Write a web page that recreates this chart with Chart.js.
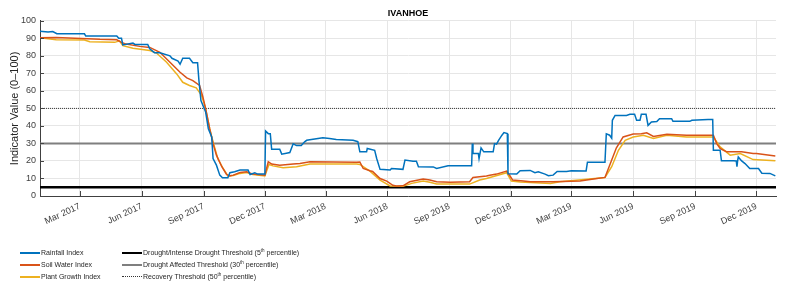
<!DOCTYPE html>
<html><head><meta charset="utf-8">
<script src="https://cdn.jsdelivr.net/npm/chart.js@4/dist/chart.umd.min.js"></script>
<style>
html,body{margin:0;padding:0;background:#fff;}
#wrap{position:relative;width:800px;height:292px;overflow:hidden;}
#c{position:absolute;left:0;top:0;}
.leg{position:absolute;font:7px "Liberation Sans",Arial,sans-serif;color:#262626;white-space:nowrap;line-height:8px;}
.sw{position:absolute;width:20px;height:0;}
sup{font-size:4.5px;line-height:4px;vertical-align:3px;}
</style></head>
<body>
<div id="wrap">
<canvas id="c" width="800" height="292"></canvas>
</div>
<script>
// Days counted from 1 Jan 2017
const tickDays = [59,151,243,334,424,516,608,699,789,881,973,1064];
const tickLabels = ['Mar 2017','Jun 2017','Sep 2017','Dec 2017','Mar 2018','Jun 2018','Sep 2018','Dec 2018','Mar 2019','Jun 2019','Sep 2019','Dec 2019'];

const rainfallDays = [0,12,19,25,66,68,114,117,121,123,138,141,160,163,170,178,193,196,205,208,212,222,227,234,236,239,246,250,255,257,262,267,271,279,282,289,297,309,312,319,323,334,335,339,342,344,356,359,371,376,381,388,393,396,420,430,440,465,472,475,485,486,497,500,505,520,522,539,542,554,559,562,584,589,606,641,642,643,651,652,655,659,673,675,678,681,686,689,694,695,708,713,728,735,740,750,755,762,768,782,789,811,813,839,841,846,849,850,854,871,876,883,886,891,893,900,903,908,916,920,938,940,965,968,992,999,1000,1010,1012,1030,1034,1035,1036,1037,1042,1047,1054,1067,1072,1084,1092];
const rainfallValues = [94.1,93.6,93.9,92.6,92.6,91.3,91.3,90,90,86.2,87.3,86.5,86.5,84,81.8,81.8,80,78.6,77,75.2,78.6,78.6,76.1,76,66,54.5,47.9,38.4,33.7,21.4,17.6,11.9,10.4,10.4,13.3,13.8,14.8,14.8,12.3,13.3,12.5,12.5,37.1,35.6,35.6,26.7,26.7,23.9,24.8,29.8,28.8,28.8,30.9,31.8,33.2,32.8,32.2,31.8,31,25.2,25.2,27.1,26.1,21.4,15.2,14.8,15.7,15.2,20.5,19.9,19.9,16.7,16.6,15.7,17.2,17.2,29.9,24.2,24.2,21.4,27.5,25.2,25.2,29.9,29.6,31.8,34.7,36.2,35.6,12.7,12.5,14.4,14.6,13.3,13.8,12.5,11.6,11.9,14,14,14.4,14.3,19.3,19.3,35.5,34.7,33,43.2,46,46,46.6,46.6,43.2,43.2,46.6,46.6,40.3,42.2,42.5,44.1,44.1,42.6,42.6,43.2,43.7,43.7,26.1,26.1,20.1,20.1,20,16.7,20,22.3,20,18.5,15.7,15.7,13,12.9,11.5];

const soilDays = [0,24,89,114,121,128,148,163,178,193,208,218,227,237,242,247,252,257,262,270,277,282,287,297,307,316,334,339,344,356,376,386,401,470,475,480,490,494,505,515,524,529,539,549,569,579,589,609,638,643,663,668,678,693,698,702,718,728,762,802,822,839,846,856,866,881,893,901,911,931,960,1000,1005,1010,1015,1020,1042,1059,1064,1092];
const soilValues = [90.3,90.5,89.4,89.2,87.7,86.7,85.4,84.8,82,76.3,70.6,67.4,65.9,63.1,56.4,48,38.4,29.9,23.3,16.7,12.3,11.5,11.9,13.4,13.8,12.5,11.9,19.5,18.2,17.5,18.2,18.5,19.5,19.3,19.4,15.7,14.4,14,10,8.5,6.1,5.7,5.8,8.1,9.7,9.1,8.1,7.8,8.1,10.6,11.4,11.9,12.5,14.2,11.4,9.1,8.5,8.1,8.1,8.5,9.7,10.6,17.6,27.5,33.7,35.4,35.6,36.1,34,35.2,34.7,34.7,29.9,27.1,26.1,25.2,25.2,24.2,24.2,22.8];

const plantDays = [0,24,66,74,111,118,123,138,163,173,188,203,212,222,232,240,245,252,257,264,272,279,287,297,307,316,334,340,346,361,381,401,470,475,490,505,520,539,552,569,579,589,638,653,663,693,700,713,758,772,812,839,849,859,869,881,896,911,931,960,1000,1010,1025,1040,1059,1092];
const plantValues = [90.3,89.2,89,88,87.7,88.6,85.8,84.3,83,81.6,76.3,69.7,64.9,63.1,61.7,57.4,51.2,38.4,30.9,21.4,15.7,11.5,11.7,12.9,13.4,12.2,11.4,18,17.2,16.1,16.7,18.2,18.2,18,14.2,9.1,5.7,5.5,7.2,8.6,7.8,6.8,6.8,9.1,10,13.3,8.5,8,7.2,8.1,9.6,10.6,16.7,26.1,31.8,33.7,34.7,32.8,34.7,33.7,33.7,28,23.3,24.2,20.8,20.1];

const thresholdNames = ['Drought/Intense Drought Threshold (5th percentile)','Drought Affected Threshold (30th percentile)','Recovery Threshold (50th percentile)'];
const thresholdValues = [5, 30, 50];
const seriesNames = ['Rainfall Index','Soil Water Index','Plant Growth Index'];

const X_MIN = 0, X_MAX = 1093;
const FONT = '"Liberation Sans", Arial, Helvetica, sans-serif';

function pts(d, v){ return d.map((x,i)=>({x:x, y:v[i]})); }
function flat(v){ return [{x:X_MIN,y:v},{x:X_MAX,y:v}]; }

const datasets = [
  {label:thresholdNames[2], data:flat(thresholdValues[2]), borderColor:'#3a3a3a', borderWidth:1, borderDash:[1,1]},
  {label:thresholdNames[1], data:flat(thresholdValues[1]), borderColor:'#7f7f7f', borderWidth:2},
  {label:thresholdNames[0], data:flat(thresholdValues[0]), borderColor:'#000000', borderWidth:2.5},
  {label:seriesNames[0], data:pts(rainfallDays, rainfallValues), borderColor:'#0072BD', borderWidth:1.5},
  {label:seriesNames[1], data:pts(soilDays, soilValues), borderColor:'#D95319', borderWidth:1.5},
  {label:seriesNames[2], data:pts(plantDays, plantValues), borderColor:'#EDB120', borderWidth:1.5}
];
datasets[3].order = 1; datasets[4].order = 2; datasets[5].order = 3;
datasets[0].order = 6; datasets[1].order = 5; datasets[2].order = 4;

const innerTicks = {
  id:'innerTicks',
  afterDraw(chart){
    const {ctx, chartArea:a, scales:{x, y}} = chart;
    ctx.save();
    ctx.strokeStyle = '#444'; ctx.lineWidth = 1;
    ctx.beginPath();
    tickDays.forEach(d=>{ const px = Math.round(x.getPixelForValue(d))+0.5; ctx.moveTo(px, a.bottom); ctx.lineTo(px, a.bottom-5); });
    for(let v=0; v<=100; v+=10){ const py = Math.round(y.getPixelForValue(v))+0.5; ctx.moveTo(a.left, py); ctx.lineTo(a.left+4, py); }
    ctx.stroke();
    ctx.restore();
  }
};

new Chart(document.getElementById('c'), {
  type:'line',
  data:{datasets},
  plugins:[innerTicks],
  options:{
    responsive:false, animation:false,
    layout:{padding:{left:0, right:24, top:0, bottom:56}},
    elements:{point:{radius:0}, line:{tension:0, borderCapStyle:'butt', borderJoinStyle:'miter'}},
    plugins:{
      legend:{display:false}, tooltip:{enabled:false},
      title:{display:true, text:'IVANHOE', fullSize:false, color:'#000', font:{family:FONT, size:9, weight:'bold'}, padding:{top:8, bottom:2}}
    },
    scales:{
      x:{type:'linear', min:X_MIN, max:X_MAX,
        afterBuildTicks:(s)=>{ s.ticks = tickDays.map(v=>({value:v})); },
        afterFit:(s)=>{ s.height = 40; },
        ticks:{autoSkip:false, minRotation:25, maxRotation:25, padding:5, color:'#404040', font:{family:FONT, size:9},
          callback:(v)=>{ const i = tickDays.indexOf(v); return i>=0 ? tickLabels[i] : ''; }},
        grid:{color:'#e6e6e6', drawTicks:false},
        border:{color:'#404040'}
      },
      y:{min:0, max:100,
        afterFit:(s)=>{ s.width = 40; },
        ticks:{stepSize:10, padding:4, color:'#404040', font:{family:FONT, size:9}},
        grid:{color:'#e6e6e6', drawTicks:false},
        border:{color:'#404040'},
        title:{display:true, text:'Indicator Value (0–100)', color:'#262626', font:{family:FONT, size:11}, padding:{top:8, bottom:0}}
      }
    }
  }
});

const wrap = document.getElementById('wrap');
const legCols = [
  {x:20, items:[[seriesNames[0],'solid 2px #0072BD'],[seriesNames[1],'solid 2px #D95319'],[seriesNames[2],'solid 2px #EDB120']]},
  {x:122, items:[[thresholdNames[0],'solid 2px #000'],[thresholdNames[1],'solid 2px #7f7f7f'],[thresholdNames[2],'dotted 1px #333']]}
];
const rowY = [253, 265, 277];
legCols.forEach(col=>{
  col.items.forEach((it,i)=>{
    const sw = document.createElement('div');
    sw.className='sw'; sw.style.left=col.x+'px'; sw.style.top=(rowY[i]-1)+'px'; sw.style.borderTop=it[1];
    wrap.appendChild(sw);
    const t = document.createElement('div');
    t.className='leg'; t.style.left=(col.x+21)+'px'; t.style.top=(rowY[i]-4)+'px';
    t.innerHTML = it[0].replace(/(\d+)th/,'$1<sup>th</sup>');
    wrap.appendChild(t);
  });
});
</script>
</body></html>
